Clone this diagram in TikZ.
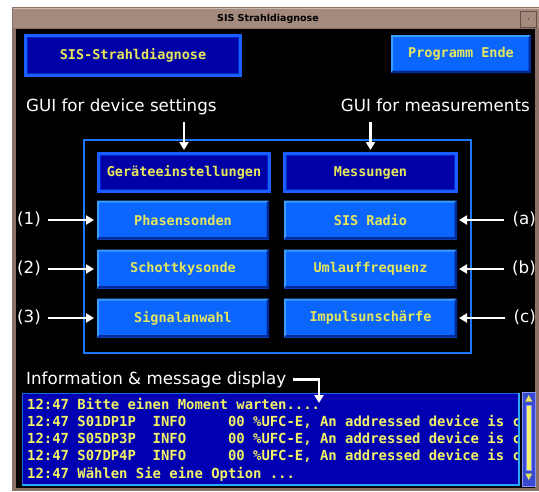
\documentclass[tikz,border=0pt]{standalone}
\usepackage{fontspec}
\setmainfont{DejaVu Sans}
\newfontfamily\monof{DejaVu Sans Mono}
\usetikzlibrary{arrows.meta}
\definecolor{winbrown}{HTML}{8C7266}
\definecolor{titlebrown}{HTML}{A48A7D}
\definecolor{darkfill}{HTML}{0000A6}
\definecolor{darkedge}{HTML}{1A5EFF}
\definecolor{darkinner}{HTML}{0028C8}
\definecolor{brightfill}{HTML}{0A66FF}
\definecolor{hilite}{HTML}{3A9CFF}
\definecolor{btnshadow}{HTML}{002A98}
\definecolor{frameblue}{HTML}{1E78FF}
\definecolor{btnyellow}{HTML}{E6E65C}
\definecolor{msgyellow}{HTML}{F2F266}
\definecolor{msgfill}{HTML}{0000B2}
\definecolor{msgedge}{HTML}{2AAAFF}
\definecolor{scrollbg}{HTML}{3A4AD0}
\definecolor{scrolledge}{HTML}{8A94FF}
\tikzset{
  btntext/.style={text=btnyellow, font=\fontsize{13.5pt}{16pt}\monof\bfseries},
  darkbtn/.style={btntext, draw=darkedge, line width=3pt, fill=darkfill, inner sep=0pt},
  brightbtn/.style={btntext, fill=brightfill, inner sep=0pt, outer sep=0pt},
  innerline/.style={draw=darkinner, line width=1.2pt},
  bigframe/.style={draw=frameblue, line width=2pt},
  msgbox/.style={fill=msgfill, draw=msgedge!60!msgfill, line width=0.8pt},
  msgline/.style={text=msgyellow, font=\fontsize{13.9pt}{17pt}\monof\bfseries, anchor=base west, inner sep=0pt},
  lbl/.style={text=white, font=\fontsize{16.7pt}{20pt}\selectfont, inner sep=2pt, text height=12.5pt, text depth=3.5pt},
  warrow/.style={draw=white, line width=2.6pt, -{Triangle[length=8pt,width=9pt]}}
}
\begin{document}
\begin{tikzpicture}[x=1pt,y=-1pt]
\useasboundingbox (0,0) rectangle (539,491);
\fill[white] (0,0) rectangle (539,491);
% window
\fill[winbrown] (12,7) rectangle (539,491);
\fill[titlebrown] (13,8) rectangle (539,28);
\draw[titlebrown!60!white, line width=0.6pt] (13,8.3) -- (539,8.3);
\fill[black] (16,29) rectangle (535,488);
\draw[winbrown!70!black, line width=0.6pt] (520.5,11) rectangle (536,27);
\fill[winbrown!60!black] (528.3,19) circle (0.8);
\node[font=\fontsize{9.5pt}{11pt}\selectfont\bfseries, text=black] (title) at (268,18.5) {SIS Strahldiagnose};

% top buttons
\node[darkbtn, minimum width=215pt, minimum height=40pt] (sis) at (133,55.5) {SIS-Strahldiagnose};
\node[brightbtn, minimum width=140pt, minimum height=38pt] (ende) at (461,54) {Programm Ende};

% labels
\node[lbl, anchor=base west] (gdev) at (24,111.5) {GUI for device settings};
\node[lbl, anchor=base east] (gmes) at (532,111.5) {GUI for measurements};

% main frame
\node[bigframe, minimum width=387pt, minimum height=213pt] (frame) at (277.5,246.5) {};

\node[darkbtn, minimum width=171pt, minimum height=38pt] (ger) at (184,172.5) {Geräteeinstellungen};
\node[darkbtn, minimum width=172pt, minimum height=38pt] (mes) at (370.5,172.5) {Messungen};

\node[brightbtn, minimum width=172pt, minimum height=39pt] (pha) at (183,220) {Phasensonden};
\node[brightbtn, minimum width=172pt, minimum height=39pt] (sch) at (183,269) {Schottkysonde};
\node[brightbtn, minimum width=172pt, minimum height=39pt] (sig) at (183,318) {Signalanwahl};
\node[brightbtn, minimum width=173pt, minimum height=39pt] (rad) at (370.5,220) {SIS Radio};
\node[brightbtn, minimum width=173pt, minimum height=39pt] (uml) at (370.5,269) {Umlauffrequenz};
\node[brightbtn, minimum width=173pt, minimum height=39pt] (imp) at (370.5,318) {Impulsunschärfe};

% button bevels and inner lines
\foreach \b in {sis,ger,mes} {
  \draw[innerline] ([shift={(3.7pt,-3.7pt)}]\b.north west) rectangle ([shift={(-3.7pt,3.7pt)}]\b.south east);
}
\foreach \b in {ende,pha,sch,sig,rad,uml,imp} {
  \fill[hilite] (\b.north west) -- (\b.north east) -- ([shift={(-2pt,-2pt)}]\b.north east)
    -- ([shift={(2pt,-2pt)}]\b.north west) -- ([shift={(2pt,2pt)}]\b.south west) -- (\b.south west) -- cycle;
  \fill[btnshadow] (\b.south east) -- (\b.south west) -- ([shift={(2pt,2.5pt)}]\b.south west)
    -- ([shift={(-2.5pt,2.5pt)}]\b.south east) -- ([shift={(-2.5pt,-2pt)}]\b.north east) -- (\b.north east) -- cycle;
}

\draw[warrow, shorten <=5pt, shorten >=2pt] (gdev.south -| ger.north) -- (ger.north);
\draw[warrow, shorten <=5pt, shorten >=2pt] (gmes.south -| mes.north) -- (mes.north);

\node[lbl, anchor=west] (n1) at (15,220) {(1)};
\node[lbl, anchor=west] (n2) at (15,269) {(2)};
\node[lbl, anchor=west] (n3) at (15,318) {(3)};
\node[lbl, anchor=east] (na) at (538,220) {(a)};
\node[lbl, anchor=east] (nb) at (538,269) {(b)};
\node[lbl, anchor=east] (nc) at (538,318) {(c)};

\draw[warrow, shorten <=5pt, shorten >=3pt] (n1) -- (pha);
\draw[warrow, shorten <=5pt, shorten >=3pt] (n2) -- (sch);
\draw[warrow, shorten <=5pt, shorten >=3pt] (n3) -- (sig);
\draw[warrow, shorten <=6pt, shorten >=2pt] (na) -- (rad);
\draw[warrow, shorten <=6pt, shorten >=2pt] (nb) -- (uml);
\draw[warrow, shorten <=6pt, shorten >=2pt] (nc) -- (imp);

% message display
\node[lbl, anchor=base west] (info) at (24,384) {Information \& message display};
\node[msgbox, minimum width=497pt, minimum height=92pt] (msg) at (270.5,439) {};
\draw[msgedge, line width=2pt] (msg.north east) -- (msg.south east) -- (msg.south west);
\begin{scope}
\clip (22,393) rectangle (517,485);
\node[msgline] (m1) at (27,409) {12:47 Bitte einen Moment warten....};
\node[msgline] (m2) at (27,426.25) {12:47 S01DP1P~~INFO~~~~~00 \%UFC-E, An addressed device is c};
\node[msgline] (m3) at (27,443.5) {12:47 S05DP3P~~INFO~~~~~00 \%UFC-E, An addressed device is c};
\node[msgline] (m4) at (27,460.75) {12:47 S07DP4P~~INFO~~~~~00 \%UFC-E, An addressed device is c};
\node[msgline] (m5) at (27,478) {12:47 Wählen Sie eine Option ...};
\end{scope}
\coordinate (infotip) at (319,403);
\draw[warrow, shorten <=5pt] (info.east) -| (infotip);

% scrollbar
\draw[scrolledge, fill=scrollbg, line width=1pt] (522.5,392.5) rectangle (535,486);
\fill[btnyellow] (528.7,395) -- (532.2,401.5) -- (525.3,401.5) -- cycle;
\draw[scrolledge, fill=msgyellow, line width=0.6pt] (526.3,405) rectangle (531.2,470);
\fill[btnyellow] (525.3,473.5) -- (532.2,473.5) -- (528.7,480) -- cycle;
\end{tikzpicture}
\end{document}
